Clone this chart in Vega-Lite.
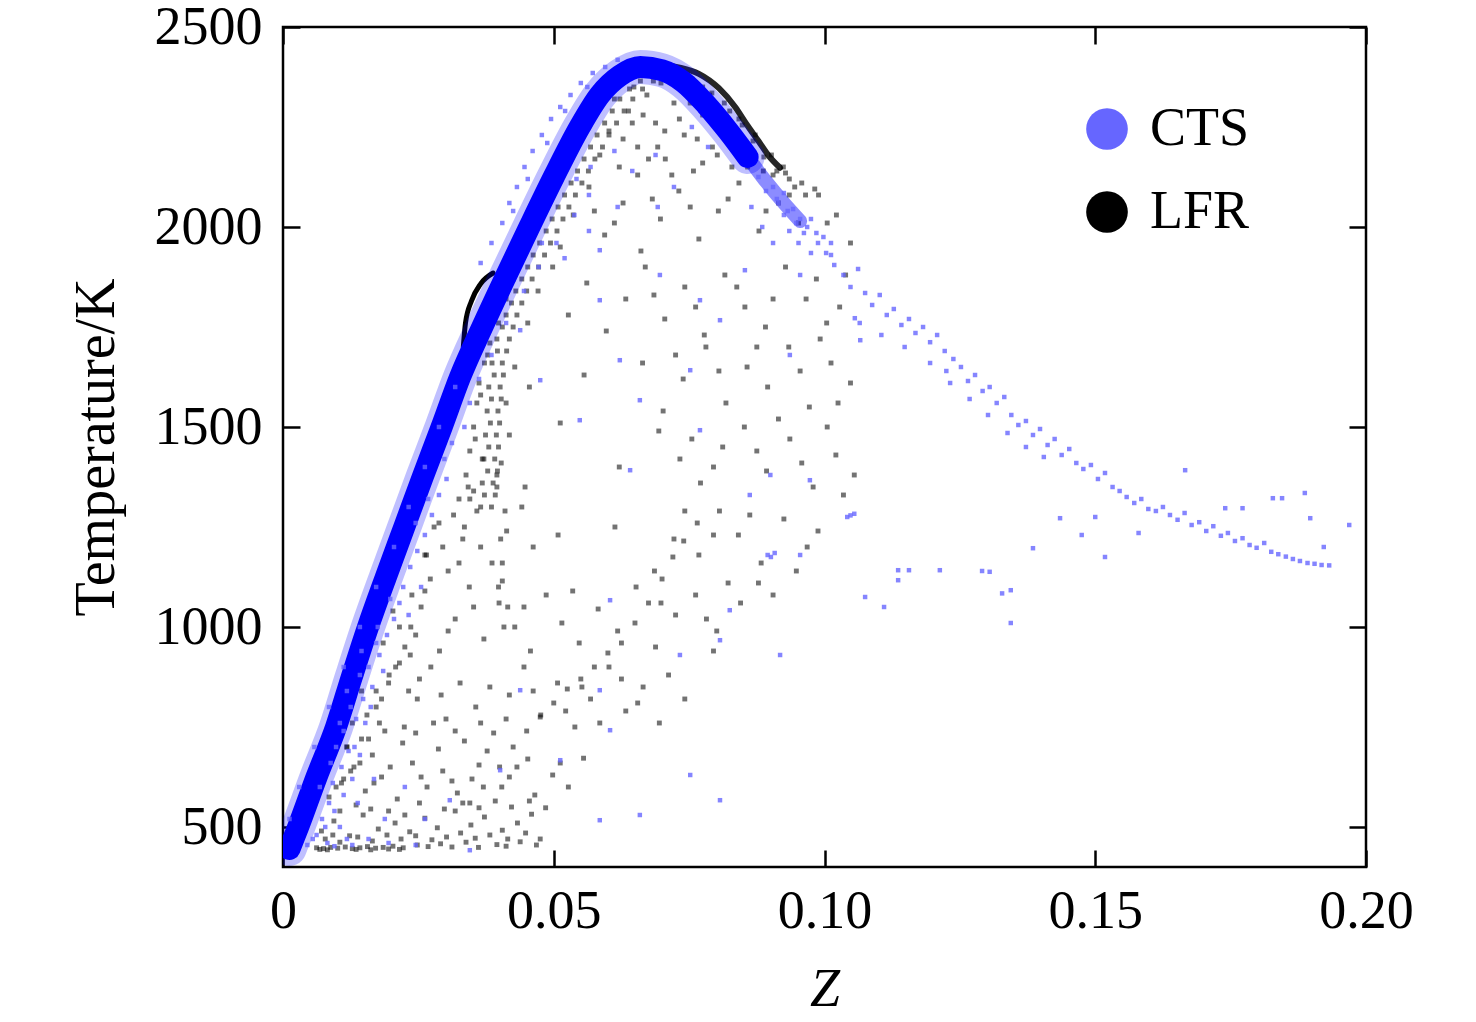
{
  "$schema": "https://vega.github.io/schema/vega-lite/v6.json",
  "width": 1083,
  "height": 840,
  "autosize": {"type": "none"},
  "padding": {"left": 283, "top": 27, "right": 110, "bottom": 155},
  "background": "white",
  "config": {
    "view": {"stroke": "black", "strokeWidth": 2.5},
    "font": "Liberation Serif",
    "axis": {
      "domain": false,
      "grid": false,
      "tickColor": "black",
      "tickWidth": 2.5,
      "tickSize": -17,
      "labelFont": "Liberation Serif",
      "labelFontSize": 54,
      "labelColor": "black",
      "labelFlush": false,
      "labelOverlap": false,
      "titleFont": "Liberation Serif",
      "titleFontSize": 56,
      "titleFontWeight": "normal",
      "titleColor": "black"
    }
  },
  "datasets": {
    "ctsBand": [
      {"z":0.0012,"t":445},{"z":0.0028,"t":500},{"z":0.0062,"t":625},{"z":0.0098,"t":750},{"z":0.0127,"t":875},
      {"z":0.0157,"t":1000},{"z":0.019,"t":1125},{"z":0.0224,"t":1250},{"z":0.0258,"t":1375},{"z":0.0293,"t":1500},
      {"z":0.0327,"t":1625},{"z":0.0368,"t":1750},{"z":0.0411,"t":1875},{"z":0.0455,"t":2000},{"z":0.05,"t":2125},
      {"z":0.0548,"t":2250},{"z":0.0585,"t":2330},{"z":0.0622,"t":2378},{"z":0.066,"t":2400},{"z":0.07,"t":2392},
      {"z":0.074,"t":2362},{"z":0.0782,"t":2305},{"z":0.0822,"t":2240},{"z":0.0858,"t":2175}
    ],
    "ctsTip": [
      {"z":0.0822,"t":2240},{"z":0.0858,"t":2175},{"z":0.0893,"t":2112},{"z":0.0925,"t":2060},{"z":0.0955,"t":2015}
    ],
    "lfrArc": [
      {"z":0.0675,"t":2400},{"z":0.0705,"t":2404},{"z":0.0735,"t":2398},{"z":0.0768,"t":2383},{"z":0.0805,"t":2347},
      {"z":0.0835,"t":2300},{"z":0.0857,"t":2255},{"z":0.0878,"t":2215},{"z":0.0897,"t":2178},{"z":0.0918,"t":2148}
    ],
    "lfrLoop": [
      {"z":0.0333,"t":1700},{"z":0.0337,"t":1760},{"z":0.0348,"t":1815},{"z":0.0365,"t":1858},{"z":0.0388,"t":1885}
    ],
    "lfr": [
      {"z":0.0365,"t":1300},{"z":0.0385,"t":1300},{"z":0.0372,"t":1330},{"z":0.0392,"t":1330},{"z":0.0368,"t":1360},
      {"z":0.0388,"t":1360},{"z":0.0378,"t":1390},{"z":0.0396,"t":1390},{"z":0.0371,"t":1420},{"z":0.0391,"t":1420},
      {"z":0.038,"t":1450},{"z":0.0398,"t":1450},{"z":0.0374,"t":1480},{"z":0.0394,"t":1480},{"z":0.0383,"t":1510},
      {"z":0.04,"t":1510},{"z":0.0377,"t":1540},{"z":0.0397,"t":1540},{"z":0.0385,"t":1570},{"z":0.0403,"t":1570},
      {"z":0.038,"t":1600},{"z":0.0401,"t":1600},{"z":0.039,"t":1630},{"z":0.0407,"t":1630},{"z":0.0386,"t":1660},
      {"z":0.0405,"t":1660},{"z":0.0396,"t":1690},{"z":0.0413,"t":1690},{"z":0.0395,"t":1720},{"z":0.0418,"t":1720},
      {"z":0.0405,"t":1750},{"z":0.0425,"t":1750},{"z":0.0412,"t":1780},{"z":0.0432,"t":1780},{"z":0.0422,"t":1810},
      {"z":0.0441,"t":1810},{"z":0.043,"t":1840},{"z":0.045,"t":1840},{"z":0.0441,"t":1870},{"z":0.046,"t":1870},
      {"z":0.0452,"t":1900},{"z":0.0472,"t":1900},{"z":0.0462,"t":1930},{"z":0.0483,"t":1930},{"z":0.0474,"t":1960},
      {"z":0.0494,"t":1960},{"z":0.0486,"t":1990},{"z":0.0506,"t":1990},{"z":0.0497,"t":2020},{"z":0.0517,"t":2020},
      {"z":0.0508,"t":2050},{"z":0.0528,"t":2050},{"z":0.052,"t":2080},{"z":0.054,"t":2080},{"z":0.0532,"t":2110},
      {"z":0.0552,"t":2110},{"z":0.0544,"t":2140},{"z":0.0564,"t":2140},{"z":0.0556,"t":2170},{"z":0.0576,"t":2170},
      {"z":0.0568,"t":2200},{"z":0.059,"t":2200},{"z":0.058,"t":2230},{"z":0.0602,"t":2230},{"z":0.0594,"t":2260},
      {"z":0.0616,"t":2260},{"z":0.0608,"t":2290},{"z":0.063,"t":2290},{"z":0.0622,"t":2320},{"z":0.0646,"t":2320},
      {"z":0.064,"t":2345},{"z":0.0664,"t":2345},{"z":0.066,"t":2365},{"z":0.0684,"t":2365},
      {"z":0.0325,"t":1320},{"z":0.0338,"t":1380},{"z":0.0345,"t":1440},{"z":0.0352,"t":1500},{"z":0.0358,"t":1560},
      {"z":0.0362,"t":1610},{"z":0.0372,"t":1660},{"z":0.0382,"t":1710},{"z":0.0398,"t":1760},{"z":0.0412,"t":1820},
      {"z":0.0425,"t":1870},{"z":0.0342,"t":1350},{"z":0.0355,"t":1470},{"z":0.0365,"t":1580},{"z":0.0378,"t":1680},
      {"z":0.0712,"t":2380},{"z":0.0755,"t":2370},{"z":0.0792,"t":2335},{"z":0.0825,"t":2290},{"z":0.0848,"t":2255},
      {"z":0.0868,"t":2215},{"z":0.0888,"t":2175},{"z":0.0912,"t":2140},{"z":0.0935,"t":2120},{"z":0.0725,"t":2375},
      {"z":0.0775,"t":2350},{"z":0.0815,"t":2310},{"z":0.0842,"t":2270},{"z":0.0872,"t":2230},{"z":0.0902,"t":2180},
      {"z":0.0928,"t":2135},{"z":0.0958,"t":2110},{"z":0.0982,"t":2095},
      {"z":0.0062,"t":448},{"z":0.0075,"t":446},{"z":0.0088,"t":449},{"z":0.0101,"t":447},{"z":0.0115,"t":450},
      {"z":0.0128,"t":446},{"z":0.0142,"t":448},{"z":0.0156,"t":451},{"z":0.0171,"t":447},{"z":0.0185,"t":449},
      {"z":0.0203,"t":452},{"z":0.0222,"t":448},{"z":0.0248,"t":455},{"z":0.0268,"t":451},{"z":0.0291,"t":458},
      {"z":0.0312,"t":450},{"z":0.0338,"t":462},{"z":0.0361,"t":449},{"z":0.0395,"t":456},{"z":0.0412,"t":452},
      {"z":0.0438,"t":463},{"z":0.0468,"t":455},{"z":0.0068,"t":444},{"z":0.0082,"t":443},{"z":0.0135,"t":444},
      {"z":0.0162,"t":443},{"z":0.0195,"t":445},{"z":0.0215,"t":444},
      {"z":0.0078,"t":470},{"z":0.0092,"t":480},{"z":0.0105,"t":462},{"z":0.0138,"t":475},{"z":0.0165,"t":465},
      {"z":0.0192,"t":480},{"z":0.0218,"t":470},{"z":0.0245,"t":478},{"z":0.0275,"t":468},{"z":0.0302,"t":475},
      {"z":0.0328,"t":485},{"z":0.0355,"t":472},{"z":0.0382,"t":480},{"z":0.0415,"t":470},{"z":0.0448,"t":485},
      {"z":0.0475,"t":470},
      {"z":0.0071,"t":490},{"z":0.0094,"t":515},{"z":0.0123,"t":478},{"z":0.0148,"t":530},{"z":0.0176,"t":495},
      {"z":0.0207,"t":510},{"z":0.0234,"t":488},{"z":0.0262,"t":522},{"z":0.0285,"t":498},{"z":0.0318,"t":540},
      {"z":0.0347,"t":505},{"z":0.0372,"t":525},{"z":0.0405,"t":492},{"z":0.0433,"t":510},{"z":0.0459,"t":532},
      {"z":0.0105,"t":540},{"z":0.0135,"t":555},{"z":0.0162,"t":545},{"z":0.0195,"t":540},{"z":0.0225,"t":530},
      {"z":0.0252,"t":560},{"z":0.0298,"t":545},{"z":0.0332,"t":560},{"z":0.0362,"t":548},{"z":0.0392,"t":565},
      {"z":0.0422,"t":550},{"z":0.0455,"t":565},{"z":0.0485,"t":548},
      {"z":0.0085,"t":575},{"z":0.0108,"t":610},{"z":0.0131,"t":650},{"z":0.0152,"t":590},{"z":0.0182,"t":625},
      {"z":0.0211,"t":570},{"z":0.0239,"t":660},{"z":0.0266,"t":600},{"z":0.0295,"t":640},{"z":0.0322,"t":585},
      {"z":0.0349,"t":620},{"z":0.0377,"t":690},{"z":0.0404,"t":600},{"z":0.0432,"t":650},{"z":0.0465,"t":580},
      {"z":0.0498,"t":630},{"z":0.0527,"t":600},{"z":0.0555,"t":672},{"z":0.0118,"t":700},{"z":0.0165,"t":680},
      {"z":0.0221,"t":710},{"z":0.0287,"t":695},{"z":0.0335,"t":715},
      {"z":0.0112,"t":620},{"z":0.0142,"t":660},{"z":0.0168,"t":610},{"z":0.0198,"t":650},{"z":0.0255,"t":625},
      {"z":0.0312,"t":615},{"z":0.0362,"t":655},{"z":0.0418,"t":625},{"z":0.0452,"t":670},{"z":0.0512,"t":660},
      {"z":0.0128,"t":760},{"z":0.0145,"t":840},{"z":0.0172,"t":800},{"z":0.0196,"t":880},{"z":0.0224,"t":750},
      {"z":0.0248,"t":820},{"z":0.0273,"t":900},{"z":0.0301,"t":770},{"z":0.0327,"t":860},{"z":0.0356,"t":800},
      {"z":0.0389,"t":735},{"z":0.0418,"t":830},{"z":0.0445,"t":900},{"z":0.0476,"t":780},{"z":0.0507,"t":860},
      {"z":0.0539,"t":750},{"z":0.0568,"t":820},{"z":0.0602,"t":900},{"z":0.0633,"t":790},{"z":0.0665,"t":850},
      {"z":0.0695,"t":760},{"z":0.0215,"t":910},{"z":0.0252,"t":870},
      {"z":0.0158,"t":720},{"z":0.0188,"t":740},{"z":0.0245,"t":735},{"z":0.0278,"t":760},{"z":0.0318,"t":740},
      {"z":0.0365,"t":760},{"z":0.0412,"t":770},{"z":0.0522,"t":790},{"z":0.0585,"t":760},{"z":0.0655,"t":810},
      {"z":0.0182,"t":820},{"z":0.0232,"t":840},{"z":0.0292,"t":830},{"z":0.0382,"t":850},{"z":0.0462,"t":840},
      {"z":0.0552,"t":850},{"z":0.0625,"t":870},{"z":0.0712,"t":880},{"z":0.0742,"t":820},
      {"z":0.0185,"t":960},{"z":0.0203,"t":1040},{"z":0.0236,"t":1000},{"z":0.0262,"t":1090},{"z":0.0289,"t":940},
      {"z":0.0318,"t":1020},{"z":0.0344,"t":1100},{"z":0.0371,"t":970},{"z":0.0399,"t":1060},{"z":0.0428,"t":1000},
      {"z":0.0457,"t":940},{"z":0.0486,"t":1080},{"z":0.0515,"t":1010},{"z":0.0547,"t":960},{"z":0.0582,"t":1045},
      {"z":0.0618,"t":990},{"z":0.0652,"t":1100},{"z":0.0688,"t":950},{"z":0.0725,"t":1030},{"z":0.0762,"t":1080},
      {"z":0.0801,"t":990},{"z":0.0845,"t":1060},{"z":0.0878,"t":1110},{"z":0.0405,"t":1115},
      {"z":0.0235,"t":930},{"z":0.0305,"t":990},{"z":0.0352,"t":1050},{"z":0.0445,"t":1050},{"z":0.0535,"t":1090},
      {"z":0.0698,"t":1060},{"z":0.0782,"t":1020},{"z":0.0822,"t":1110},{"z":0.0905,"t":1080},{"z":0.0795,"t":940},
      {"z":0.0262,"t":1180},{"z":0.0279,"t":1250},{"z":0.0305,"t":1140},{"z":0.0332,"t":1220},{"z":0.0358,"t":1290},
      {"z":0.0386,"t":1160},{"z":0.0413,"t":1240},{"z":0.0441,"t":1300},{"z":0.0508,"t":1230},{"z":0.0613,"t":1250},
      {"z":0.0686,"t":1140},{"z":0.0722,"t":1220},{"z":0.0768,"t":1180},{"z":0.0806,"t":1290},{"z":0.0841,"t":1230},
      {"z":0.0883,"t":1160},{"z":0.0925,"t":1270},{"z":0.0968,"t":1200},
      {"z":0.0325,"t":1160},{"z":0.0365,"t":1200},{"z":0.0462,"t":1200},{"z":0.0742,"t":1290},{"z":0.0795,"t":1230},
      {"z":0.0862,"t":1280},{"z":0.0948,"t":1140},{"z":0.0988,"t":1240},
      {"z":0.0352,"t":1340},{"z":0.0368,"t":1420},{"z":0.0395,"t":1380},{"z":0.0418,"t":1480},{"z":0.0447,"t":1350},
      {"z":0.0512,"t":1510},{"z":0.0621,"t":1400},{"z":0.0694,"t":1490},{"z":0.0733,"t":1420},{"z":0.0771,"t":1360},
      {"z":0.0812,"t":1450},{"z":0.0852,"t":1500},{"z":0.0893,"t":1390},{"z":0.0936,"t":1470},{"z":0.0979,"t":1350},
      {"z":0.1021,"t":1430},{"z":0.1055,"t":1380},
      {"z":0.0755,"t":1470},{"z":0.0795,"t":1400},{"z":0.0875,"t":1440},{"z":0.0915,"t":1520},{"z":0.0958,"t":1410},
      {"z":0.1005,"t":1500},{"z":0.1035,"t":1330},
      {"z":0.0412,"t":1560},{"z":0.0428,"t":1650},{"z":0.0455,"t":1600},{"z":0.0556,"t":1630},{"z":0.0664,"t":1660},
      {"z":0.0702,"t":1540},{"z":0.0739,"t":1620},{"z":0.0781,"t":1700},{"z":0.0818,"t":1560},{"z":0.0857,"t":1650},
      {"z":0.0895,"t":1600},{"z":0.0934,"t":1700},{"z":0.0972,"t":1550},{"z":0.1012,"t":1660},{"z":0.1048,"t":1610},
      {"z":0.0725,"t":1680},{"z":0.0805,"t":1640},{"z":0.0875,"t":1700},{"z":0.0955,"t":1640},{"z":0.0992,"t":1720},
      {"z":0.1025,"t":1560},
      {"z":0.0452,"t":1760},{"z":0.0471,"t":1840},{"z":0.0498,"t":1900},{"z":0.0527,"t":1780},{"z":0.0561,"t":1860},
      {"z":0.0597,"t":1740},{"z":0.0633,"t":1820},{"z":0.0669,"t":1900},{"z":0.0705,"t":1770},{"z":0.0742,"t":1850},
      {"z":0.0778,"t":1730},{"z":0.0816,"t":1880},{"z":0.0853,"t":1800},{"z":0.0891,"t":1750},{"z":0.0928,"t":1900},
      {"z":0.0966,"t":1820},{"z":0.1004,"t":1760},{"z":0.1039,"t":1880},
      {"z":0.0685,"t":1830},{"z":0.0762,"t":1800},{"z":0.0838,"t":1850},{"z":0.0905,"t":1820},{"z":0.0985,"t":1870},
      {"z":0.1028,"t":1800},
      {"z":0.0512,"t":1950},{"z":0.0536,"t":2030},{"z":0.0565,"t":2100},{"z":0.0594,"t":1980},{"z":0.0628,"t":2060},
      {"z":0.0661,"t":1940},{"z":0.0697,"t":2020},{"z":0.0731,"t":2090},{"z":0.0768,"t":1970},{"z":0.0804,"t":2040},
      {"z":0.0842,"t":2110},{"z":0.0879,"t":1990},{"z":0.0915,"t":2060},{"z":0.0952,"t":2010},{"z":0.0989,"t":2080},
      {"z":0.1022,"t":2030},{"z":0.1048,"t":1960},
      {"z":0.0575,"t":2040},{"z":0.0612,"t":2010},{"z":0.0682,"t":2070},{"z":0.0752,"t":2050},{"z":0.0822,"t":2070},
      {"z":0.0892,"t":2040},{"z":0.0935,"t":2080},{"z":0.1005,"t":2010},
      {"z":0.0585,"t":2180},{"z":0.0602,"t":2240},{"z":0.0621,"t":2150},{"z":0.0638,"t":2290},{"z":0.0655,"t":2200},
      {"z":0.0672,"t":2330},{"z":0.0688,"t":2260},{"z":0.0706,"t":2170},{"z":0.0722,"t":2310},{"z":0.0741,"t":2230},
      {"z":0.0758,"t":2140},{"z":0.0775,"t":2280},{"z":0.0793,"t":2200},{"z":0.0811,"t":2260},{"z":0.0829,"t":2150},
      {"z":0.0846,"t":2220},{"z":0.0868,"t":2180},{"z":0.0887,"t":2140},{"z":0.0905,"t":2130},{"z":0.0924,"t":2150},
      {"z":0.0945,"t":2100},{"z":0.0965,"t":2080},{"z":0.0655,"t":2130},{"z":0.0705,"t":2240},{"z":0.0752,"t":2310},
      {"z":0.0612,"t":2320},{"z":0.0648,"t":2350},{"z":0.0698,"t":2360},{"z":0.0745,"t":2360},{"z":0.0788,"t":2330},
      {"z":0.0628,"t":2220},{"z":0.0665,"t":2280},{"z":0.0692,"t":2200},{"z":0.0732,"t":2270},{"z":0.0765,"t":2220},
      {"z":0.0802,"t":2180},{"z":0.0835,"t":2200},{"z":0.0858,"t":2150},{"z":0.0675,"t":2170},{"z":0.0718,"t":2130},
      {"z":0.0645,"t":2260},{"z":0.0775,"t":2160},
      {"z":0.0345,"t":560},{"z":0.037,"t":600},{"z":0.04,"t":650},{"z":0.0425,"t":700},{"z":0.045,"t":740},
      {"z":0.0475,"t":775},{"z":0.05,"t":810},{"z":0.0525,"t":845},{"z":0.055,"t":870},{"z":0.0575,"t":900},
      {"z":0.06,"t":935},{"z":0.0625,"t":960},{"z":0.065,"t":1010},{"z":0.0675,"t":1060},{"z":0.07,"t":1120},
      {"z":0.072,"t":1175},{"z":0.074,"t":1215},{"z":0.0765,"t":1260},
      {"z":0.0098,"t":600},{"z":0.0125,"t":640},{"z":0.0118,"t":700},{"z":0.0145,"t":720},{"z":0.0155,"t":780},
      {"z":0.0178,"t":760},{"z":0.0172,"t":840},{"z":0.0195,"t":860},{"z":0.0208,"t":900},{"z":0.0225,"t":950},
      {"z":0.0215,"t":1000},{"z":0.0245,"t":980},{"z":0.0255,"t":1050},{"z":0.0238,"t":1080},{"z":0.0272,"t":1120},
      {"z":0.0265,"t":1180},{"z":0.0295,"t":1200},{"z":0.0288,"t":1260},{"z":0.0315,"t":1280},{"z":0.0335,"t":1250},
      {"z":0.0345,"t":1320},
      {"z":0.0398,"t":1100},{"z":0.0405,"t":1160},{"z":0.0402,"t":1220},{"z":0.041,"t":1290},{"z":0.0395,"t":1350},
      {"z":0.0403,"t":1410},{"z":0.0415,"t":1050},{"z":0.0408,"t":1000}
    ],
    "cts": [
      {"z":0.0405,"t":2010},{"z":0.0418,"t":2060},{"z":0.0432,"t":2100},{"z":0.0446,"t":2150},{"z":0.0461,"t":2190},
      {"z":0.0478,"t":2230},{"z":0.0495,"t":2270},{"z":0.0512,"t":2300},{"z":0.0531,"t":2330},{"z":0.055,"t":2360},
      {"z":0.0572,"t":2385},{"z":0.0595,"t":2400},{"z":0.0618,"t":2418},{"z":0.0425,"t":2040},{"z":0.0452,"t":2120},
      {"z":0.0488,"t":2210},{"z":0.0521,"t":2290},{"z":0.0562,"t":2350},{"z":0.0385,"t":1960},{"z":0.0365,"t":1910},
      {"z":0.0055,"t":470},{"z":0.0072,"t":520},{"z":0.0085,"t":560},{"z":0.0092,"t":610},{"z":0.0108,"t":650},
      {"z":0.0121,"t":690},{"z":0.0112,"t":740},{"z":0.0135,"t":770},{"z":0.0148,"t":820},{"z":0.0165,"t":850},
      {"z":0.0158,"t":900},{"z":0.0178,"t":930},{"z":0.0192,"t":980},{"z":0.0205,"t":1020},{"z":0.0198,"t":1070},
      {"z":0.0222,"t":1100},{"z":0.0235,"t":1150},{"z":0.0248,"t":1190},{"z":0.0262,"t":1230},{"z":0.0275,"t":1280},
      {"z":0.0288,"t":1330},{"z":0.0302,"t":1370},{"z":0.0068,"t":600},{"z":0.0098,"t":700},{"z":0.0125,"t":800},
      {"z":0.0142,"t":880},{"z":0.0175,"t":1000},{"z":0.0105,"t":500},{"z":0.0138,"t":560},{"z":0.0168,"t":620},
      {"z":0.0082,"t":460},{"z":0.0118,"t":470},
      {"z":0.0045,"t":455},{"z":0.0062,"t":480},{"z":0.0078,"t":500},{"z":0.0095,"t":540},{"z":0.0112,"t":580},
      {"z":0.0128,"t":620},{"z":0.0088,"t":660},{"z":0.0142,"t":680},{"z":0.0105,"t":760},{"z":0.0132,"t":700},
      {"z":0.0152,"t":760},{"z":0.0118,"t":840},{"z":0.0162,"t":800},{"z":0.0145,"t":940},{"z":0.0185,"t":890},
      {"z":0.0172,"t":960},{"z":0.0215,"t":1060},{"z":0.0158,"t":470},{"z":0.0195,"t":460},{"z":0.0245,"t":455},
      {"z":0.0128,"t":455},{"z":0.0262,"t":520},{"z":0.0188,"t":520},{"z":0.0225,"t":600},{"z":0.0095,"t":452},
      {"z":0.0245,"t":1260},{"z":0.0268,"t":1320},{"z":0.0298,"t":1420},{"z":0.0312,"t":1460},{"z":0.0255,"t":1100},
      {"z":0.0232,"t":1030},
      {"z":0.0012,"t":520},{"z":0.003,"t":600},{"z":0.0058,"t":700},{"z":0.0085,"t":800},{"z":0.0112,"t":900},
      {"z":0.0142,"t":1000},{"z":0.0172,"t":1100},{"z":0.0205,"t":1200},{"z":0.0232,"t":1300},{"z":0.0262,"t":1400},
      {"z":0.0288,"t":1500},{"z":0.0318,"t":1600},
      {"z":0.0335,"t":1500},{"z":0.0345,"t":1560},{"z":0.0362,"t":1620},{"z":0.0385,"t":1680},{"z":0.0412,"t":1760},
      {"z":0.0445,"t":1840},{"z":0.0472,"t":1900},{"z":0.0505,"t":1960},{"z":0.0538,"t":2030},{"z":0.0565,"t":2080},
      {"z":0.0478,"t":1960},{"z":0.0542,"t":2120},{"z":0.0568,"t":2150},{"z":0.0612,"t":2190},{"z":0.0645,"t":2140},
      {"z":0.0688,"t":2180},{"z":0.0722,"t":2100},{"z":0.0755,"t":2250},{"z":0.0785,"t":2200},{"z":0.0692,"t":2050},
      {"z":0.0618,"t":2050},{"z":0.0565,"t":1990},{"z":0.0865,"t":2050},{"z":0.0905,"t":1960},{"z":0.0935,"t":1990},
      {"z":0.0885,"t":2000},{"z":0.0952,"t":1960},{"z":0.0975,"t":1935},{"z":0.0925,"t":2030},
      {"z":0.0878,"t":2125},{"z":0.0892,"t":2090},{"z":0.0912,"t":2070},{"z":0.0925,"t":2085},{"z":0.0942,"t":2045},
      {"z":0.0955,"t":2020},{"z":0.0968,"t":2000},{"z":0.0985,"t":1985},{"z":0.0998,"t":1975},{"z":0.1012,"t":1930},
      {"z":0.052,"t":1922},{"z":0.0585,"t":1942},{"z":0.077,"t":1817},{"z":0.0807,"t":1767},{"z":0.0853,"t":1892},
      {"z":0.0696,"t":1880},{"z":0.0955,"t":1880},{"z":0.1056,"t":1772},{"z":0.1066,"t":1717},{"z":0.0659,"t":1567},
      {"z":0.0936,"t":1680},{"z":0.077,"t":1492},{"z":0.09,"t":1380},{"z":0.0862,"t":1330},{"z":0.0973,"t":1367},
      {"z":0.0955,"t":1180},{"z":0.0825,"t":1042},{"z":0.0733,"t":930},{"z":0.0807,"t":967},
      {"z":0.0918,"t":930},{"z":0.0641,"t":1392},{"z":0.0604,"t":1067},{"z":0.0585,"t":842},{"z":0.0512,"t":667},
      {"z":0.0585,"t":517},{"z":0.0752,"t":630},{"z":0.0807,"t":567},{"z":0.0659,"t":530},{"z":0.0604,"t":742},
      {"z":0.0438,"t":842},{"z":0.0401,"t":642},{"z":0.0345,"t":442},{"z":0.0308,"t":567},{"z":0.0548,"t":1517},
      {"z":0.0475,"t":1617},{"z":0.0438,"t":1742},{"z":0.0585,"t":1817},{"z":0.0622,"t":1667},{"z":0.0752,"t":1642},
      {"z":0.0895,"t":1180},{"z":0.0901,"t":1175},{"z":0.0908,"t":1185},{"z":0.1042,"t":1275},{"z":0.1055,"t":1283},
      {"z":0.1048,"t":1279},
      {"z":0.0905,"t":2100},{"z":0.0915,"t":2060},{"z":0.0932,"t":2040},{"z":0.0948,"t":2010},{"z":0.0962,"t":1985},
      {"z":0.0975,"t":2020},{"z":0.0988,"t":1960},{"z":0.1003,"t":1935},{"z":0.1018,"t":1905},{"z":0.1012,"t":1960},
      {"z":0.1035,"t":1880},{"z":0.1048,"t":1850},{"z":0.1062,"t":1895},{"z":0.1075,"t":1835},{"z":0.1088,"t":1805},
      {"z":0.1102,"t":1830},{"z":0.1115,"t":1780},{"z":0.1128,"t":1795},{"z":0.1142,"t":1755},{"z":0.1156,"t":1770},
      {"z":0.1168,"t":1735},{"z":0.1182,"t":1750},{"z":0.1195,"t":1712},{"z":0.1208,"t":1730},{"z":0.1222,"t":1690},
      {"z":0.1238,"t":1670},{"z":0.1225,"t":1640},{"z":0.1252,"t":1650},{"z":0.1265,"t":1615},{"z":0.1278,"t":1630},
      {"z":0.1292,"t":1590},{"z":0.1305,"t":1600},{"z":0.1318,"t":1560},{"z":0.1332,"t":1575},{"z":0.1345,"t":1530},
      {"z":0.1358,"t":1505},{"z":0.1372,"t":1515},{"z":0.1385,"t":1480},{"z":0.1398,"t":1495},{"z":0.1412,"t":1455},
      {"z":0.1425,"t":1470},{"z":0.1438,"t":1430},{"z":0.1452,"t":1445},{"z":0.1465,"t":1410},{"z":0.1478,"t":1395},
      {"z":0.1492,"t":1405},{"z":0.1505,"t":1370},{"z":0.1518,"t":1385},{"z":0.1532,"t":1350},{"z":0.1545,"t":1340},
      {"z":0.1558,"t":1325},{"z":0.1572,"t":1310},{"z":0.1585,"t":1320},{"z":0.1598,"t":1295},{"z":0.1612,"t":1290},
      {"z":0.1625,"t":1300},{"z":0.1638,"t":1280},{"z":0.1652,"t":1268},{"z":0.1665,"t":1285},{"z":0.1678,"t":1255},
      {"z":0.1692,"t":1262},{"z":0.1705,"t":1240},{"z":0.1718,"t":1252},{"z":0.1732,"t":1228},{"z":0.1745,"t":1235},
      {"z":0.1758,"t":1215},{"z":0.1772,"t":1222},{"z":0.1785,"t":1205},{"z":0.1798,"t":1198},{"z":0.1812,"t":1210},
      {"z":0.1825,"t":1188},{"z":0.1838,"t":1182},{"z":0.1852,"t":1176},{"z":0.1865,"t":1170},{"z":0.1878,"t":1165},
      {"z":0.1892,"t":1160},{"z":0.1905,"t":1158},{"z":0.1918,"t":1155},{"z":0.1932,"t":1154},
      {"z":0.1065,"t":1760},{"z":0.1105,"t":1730},{"z":0.1148,"t":1700},{"z":0.1195,"t":1660},{"z":0.1232,"t":1610},
      {"z":0.1268,"t":1570},{"z":0.1302,"t":1530},{"z":0.1338,"t":1485},{"z":0.1372,"t":1450},{"z":0.1405,"t":1425},
      {"z":0.1887,"t":1335},{"z":0.1828,"t":1322},{"z":0.1845,"t":1322},{"z":0.1969,"t":1255},{"z":0.1666,"t":1392},
      {"z":0.1897,"t":1272},{"z":0.1922,"t":1200},{"z":0.174,"t":1297},{"z":0.1772,"t":1297},{"z":0.1435,"t":1272},
      {"z":0.15,"t":1275},{"z":0.1475,"t":1230},{"z":0.158,"t":1235},{"z":0.1518,"t":1175},{"z":0.1385,"t":1197},
      {"z":0.1344,"t":1092},{"z":0.1328,"t":1084},{"z":0.1344,"t":1010},{"z":0.1136,"t":1142},{"z":0.1156,"t":1142},
      {"z":0.1136,"t":1117},{"z":0.1213,"t":1142},{"z":0.1291,"t":1140},{"z":0.1305,"t":1138},{"z":0.1075,"t":1075},
      {"z":0.111,"t":1050}
    ]
  },
  "layer": [
    {
      "data": {"name": "lfr"},
      "mark": {"type": "square", "size": 24, "fillOpacity": 0.55},
      "encoding": {
        "x": {
          "field": "z", "type": "quantitative",
          "scale": {"domain": [0, 0.2], "nice": false, "zero": false},
          "axis": {
            "orient": "bottom",
            "values": [0, 0.05, 0.1, 0.15, 0.2],
            "labelExpr": "datum.value == 0 ? '0' : format(datum.value, '.2f')",
            "labelPadding": 34,
            "title": "Z",
            "titleFontStyle": "italic",
            "titleFontSize": 54,
            "titlePadding": 24
          }
        },
        "y": {
          "field": "t", "type": "quantitative",
          "scale": {"domain": [400, 2500], "nice": false, "zero": false},
          "axis": {
            "orient": "left",
            "values": [500, 1000, 1500, 2000, 2500],
            "format": "d",
            "labelPadding": 38,
            "title": "Temperature/K",
            "titlePadding": 29
          }
        },
        "color": {
          "datum": "LFR",
          "type": "nominal",
          "scale": {"domain": ["CTS", "LFR"], "range": ["#6666ff", "#000000"]},
          "legend": {
            "orient": "none",
            "legendX": 797,
            "legendY": 75,
            "title": null,
            "padding": 0,
            "symbolType": "circle",
            "symbolSize": 1735,
            "symbolStrokeWidth": 0,
            "symbolOpacity": 1,
            "labelFont": "Liberation Serif",
            "labelFontSize": 54,
            "labelColor": "black",
            "labelOffset": 16,
            "rowPadding": 29
          }
        }
      }
    },
    {
      "data": {"name": "lfrArc"},
      "mark": {"type": "line", "color": "#000000", "strokeWidth": 6, "opacity": 0.85, "strokeCap": "round", "interpolate": "monotone"},
      "encoding": {
        "x": {"field": "z", "type": "quantitative", "axis": null},
        "y": {"field": "t", "type": "quantitative", "axis": null}
      }
    },
    {
      "data": {"name": "lfrLoop"},
      "mark": {"type": "line", "color": "#000000", "strokeWidth": 5, "strokeCap": "round", "interpolate": "monotone"},
      "encoding": {
        "x": {"field": "z", "type": "quantitative", "axis": null},
        "y": {"field": "t", "type": "quantitative", "axis": null}
      }
    },
    {
      "data": {"name": "ctsBand"},
      "mark": {"type": "line", "color": "#0000ff", "strokeWidth": 34, "opacity": 0.25, "strokeCap": "round", "strokeJoin": "round", "interpolate": "monotone", "clip": true},
      "encoding": {
        "x": {"field": "z", "type": "quantitative", "axis": null},
        "y": {"field": "t", "type": "quantitative", "axis": null}
      }
    },
    {
      "data": {"name": "ctsTip"},
      "mark": {"type": "line", "color": "#0000ff", "strokeWidth": 14, "opacity": 0.45, "strokeCap": "round", "interpolate": "monotone"},
      "encoding": {
        "x": {"field": "z", "type": "quantitative", "axis": null},
        "y": {"field": "t", "type": "quantitative", "axis": null}
      }
    },
    {
      "data": {"name": "ctsBand"},
      "mark": {"type": "line", "color": "#0000ff", "strokeWidth": 22, "strokeCap": "round", "strokeJoin": "round", "interpolate": "monotone", "clip": true},
      "encoding": {
        "x": {"field": "z", "type": "quantitative", "axis": null},
        "y": {"field": "t", "type": "quantitative", "axis": null}
      }
    },
    {
      "data": {"name": "cts"},
      "mark": {"type": "square", "size": 20, "fillOpacity": 0.8},
      "encoding": {
        "x": {
          "field": "z", "type": "quantitative",
          "axis": {"orient": "top", "values": [0, 0.05, 0.1, 0.15, 0.2], "labels": false, "title": null}
        },
        "y": {
          "field": "t", "type": "quantitative",
          "axis": {"orient": "right", "values": [500, 1000, 1500, 2000, 2500], "labels": false, "title": null}
        },
        "color": {"datum": "CTS", "type": "nominal"}
      }
    }
  ],
  "resolve": {"axis": {"x": "independent", "y": "independent"}}
}
